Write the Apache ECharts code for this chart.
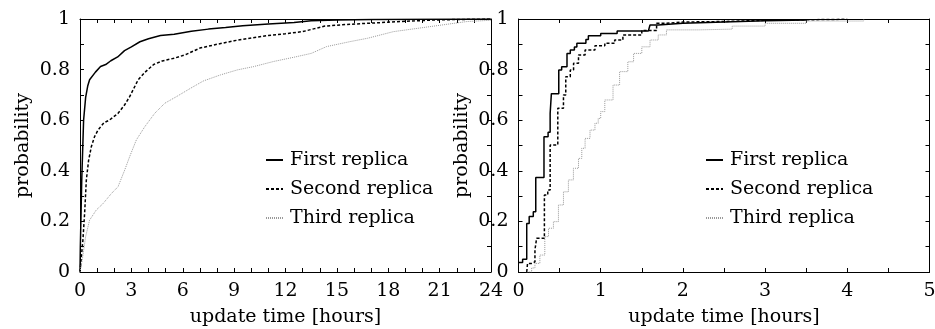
<!DOCTYPE html>
<html>
<head>
<meta charset="utf-8">
<script src="https://cdn.jsdelivr.net/npm/echarts@6/dist/echarts.min.js"></script>
<style>
    html, body { margin: 0; padding: 0; background: #fff; }
    #chart { width: 935px; height: 329px; }
</style>
</head>
<body>
<div id="chart"></div>
<script>
// series names
let seriesNames = ['First replica', 'Second replica', 'Third replica'];

// left plot: [hours, probability]
let firstLong = [[0, 0], [0.02, 0.1], [0.1, 0.36], [0.21, 0.6], [0.33, 0.69], [0.45, 0.735], [0.56, 0.76], [0.9, 0.79], [1.2, 0.812], [1.5, 0.82],
    [1.8, 0.835], [2.2, 0.85], [2.6, 0.875], [3.0, 0.89], [3.5, 0.91], [4.0, 0.922], [4.7, 0.935], [5.5, 0.94], [6.5, 0.952], [7.5, 0.96],
    [8.5, 0.966], [9.5, 0.973], [11, 0.98], [12.5, 0.986], [13.5, 0.993], [15, 0.996], [17, 0.998], [20, 0.999], [24, 1]];
let secondLong = [[0, 0], [0.08, 0.06], [0.17, 0.126], [0.27, 0.233], [0.37, 0.364], [0.5, 0.44], [0.66, 0.495], [0.85, 0.535], [1.05, 0.561],
    [1.4, 0.59], [1.71, 0.6], [2.22, 0.627], [2.6, 0.66], [2.9, 0.693], [3.39, 0.759], [3.8, 0.79], [4.3, 0.82], [4.8, 0.834], [5.5, 0.845],
    [6.2, 0.86], [7.0, 0.885], [8.0, 0.9], [9.0, 0.914], [10.0, 0.925], [11, 0.935], [12, 0.942], [13.0, 0.95], [13.7, 0.962], [14.3, 0.972],
    [15.5, 0.978], [16.8, 0.983], [18.7, 0.99], [20.7, 0.996], [22, 0.998], [24, 1]];
let thirdLong = [[0, 0], [0.13, 0.047], [0.33, 0.14], [0.56, 0.205], [0.95, 0.245], [1.34, 0.27], [1.83, 0.31], [2.22, 0.337], [2.61, 0.403],
    [2.9, 0.456], [3.29, 0.522], [3.78, 0.574], [4.36, 0.627], [4.95, 0.667], [5.63, 0.693], [6.45, 0.726], [7.2, 0.755], [8.2, 0.779],
    [9.2, 0.799], [10.15, 0.812], [11.3, 0.832], [12.5, 0.849], [13.5, 0.864], [14.4, 0.891], [15.8, 0.911], [16.8, 0.924], [18.3, 0.95],
    [19.7, 0.963], [21.1, 0.976], [22.6, 0.99], [24, 0.995]];

// right plot (zoomed, step curves): [hours, probability]
let firstShort = [[0, 0.038], [0.05, 0.05], [0.1, 0.192], [0.13, 0.219], [0.18, 0.238], [0.21, 0.374], [0.31, 0.535], [0.36, 0.552],
    [0.385, 0.627], [0.4, 0.705], [0.49, 0.798], [0.525, 0.811], [0.59, 0.864], [0.63, 0.877], [0.68, 0.889], [0.71, 0.904], [0.82, 0.919],
    [0.85, 0.934], [1.0, 0.943], [1.2, 0.953], [1.58, 0.96], [1.6, 0.976], [1.7, 0.983], [2.0, 0.988], [2.5, 0.993], [3.0, 0.996], [3.5, 1]];
let secondShort = [[0.1, 0], [0.11, 0.034], [0.16, 0.04], [0.2, 0.087], [0.22, 0.133], [0.315, 0.304], [0.356, 0.324], [0.385, 0.502],
    [0.478, 0.647], [0.547, 0.7], [0.575, 0.772], [0.63, 0.798], [0.67, 0.825], [0.73, 0.858], [0.81, 0.877], [0.93, 0.894], [1.05, 0.904],
    [1.17, 0.917], [1.27, 0.937], [1.5, 0.955], [1.68, 0.983], [1.8, 0.988], [2.0, 0.99], [2.5, 0.995], [3.0, 0.999], [4.0, 1]];
let thirdShort = [[0.1, 0], [0.16, 0.016], [0.2, 0.034], [0.26, 0.067], [0.32, 0.14], [0.365, 0.173], [0.425, 0.199], [0.486, 0.265],
    [0.547, 0.317], [0.607, 0.364], [0.668, 0.41], [0.73, 0.449], [0.77, 0.489], [0.81, 0.528], [0.87, 0.561], [0.93, 0.588], [0.97, 0.607],
    [1.0, 0.634], [1.05, 0.68], [1.15, 0.739], [1.23, 0.792], [1.33, 0.831], [1.4, 0.864], [1.5, 0.89], [1.6, 0.917], [1.7, 0.937],
    [1.8, 0.957], [2.2, 0.96], [2.6, 0.972], [3.0, 0.983], [3.5, 0.992], [4.2, 0.998]];

let fontFamily = 'DejaVu Serif';
let fontSize = 19;

function xAxisFor(grid, max, interval, minorSplit, top) {
    return {
        type: 'value', gridIndex: grid, position: top ? 'top' : 'bottom',
        min: 0, max: max, interval: interval,
        name: top ? '' : 'update time [hours]', nameLocation: 'middle', nameGap: 36,
        nameTextStyle: { fontFamily: fontFamily, fontSize: fontSize, color: '#000' },
        axisLine: { show: true, onZero: false, lineStyle: { color: '#000', width: 1 } },
        axisTick: { show: true, inside: true, length: 4, lineStyle: { color: '#000' } },
        minorTick: { show: true, splitNumber: minorSplit, length: 4, lineStyle: { color: '#000' } },
        axisLabel: { show: !top, margin: 10, fontFamily: fontFamily, fontSize: fontSize, color: '#000' },
        splitLine: { show: false }
    };
}

function yAxisFor(grid, right) {
    return {
        type: 'value', gridIndex: grid, position: right ? 'right' : 'left',
        min: 0, max: 1, interval: 0.2,
        name: right ? '' : 'probability', nameLocation: 'middle', nameGap: 47,
        nameTextStyle: { fontFamily: fontFamily, fontSize: fontSize, color: '#000' },
        axisLine: { show: true, onZero: false, lineStyle: { color: '#000', width: 1 } },
        axisTick: { show: true, inside: true, length: 4, lineStyle: { color: '#000' } },
        minorTick: { show: true, splitNumber: 2, length: 4, lineStyle: { color: '#000' } },
        axisLabel: { show: !right, margin: 10, fontFamily: fontFamily, fontSize: fontSize, color: '#000' },
        splitLine: { show: false }
    };
}

let lineStyles = [
    { color: '#000', width: 1.5, type: 'solid' },
    { color: '#000', width: 1.5, type: [3, 2] },
    { color: '#999', width: 1, type: [1, 1] }
];

function makeSeries(name, data, axis, styleIdx, step) {
    return {
        name: name, type: 'line', xAxisIndex: axis, yAxisIndex: axis,
        data: data, step: step, showSymbol: false, symbol: 'none',
        lineStyle: lineStyles[styleIdx], itemStyle: { color: lineStyles[styleIdx].color },
        animation: false
    };
}

function legendAt(left) {
    return {
        orient: 'vertical', left: left, top: 150, padding: 0,
        itemWidth: 17, itemHeight: 14, itemGap: 9,
        data: seriesNames,
        itemStyle: { opacity: 0 },
        textStyle: { fontFamily: fontFamily, fontSize: fontSize, color: '#000', lineHeight: 20, padding: [0, 0, 0, 2] }
    };
}

let chart = echarts.init(document.getElementById('chart'), null, { renderer: 'canvas' });
chart.setOption({
    backgroundColor: '#fff',
    animation: false,
    grid: [
        { left: 80, top: 19, width: 411, height: 253, containLabel: false, outerBoundsMode: 'none' },
        { left: 518.5, top: 19, width: 411, height: 253, containLabel: false, outerBoundsMode: 'none' }
    ],
    xAxis: [
        xAxisFor(0, 24, 3, 3, false), xAxisFor(0, 24, 3, 3, true),
        xAxisFor(1, 5, 1, 2, false), xAxisFor(1, 5, 1, 2, true)
    ],
    yAxis: [
        yAxisFor(0, false), yAxisFor(0, true),
        yAxisFor(1, false), yAxisFor(1, true)
    ],
    legend: [legendAt(265), legendAt(705)],
    series: [
        makeSeries(seriesNames[0], firstLong, 0, 0, false),
        makeSeries(seriesNames[1], secondLong, 0, 1, false),
        makeSeries(seriesNames[2], thirdLong, 0, 2, false),
        makeSeries(seriesNames[0], firstShort, 2, 0, 'end'),
        makeSeries(seriesNames[1], secondShort, 2, 1, 'end'),
        makeSeries(seriesNames[2], thirdShort, 2, 2, 'end')
    ]
});
</script>
</body>
</html>
